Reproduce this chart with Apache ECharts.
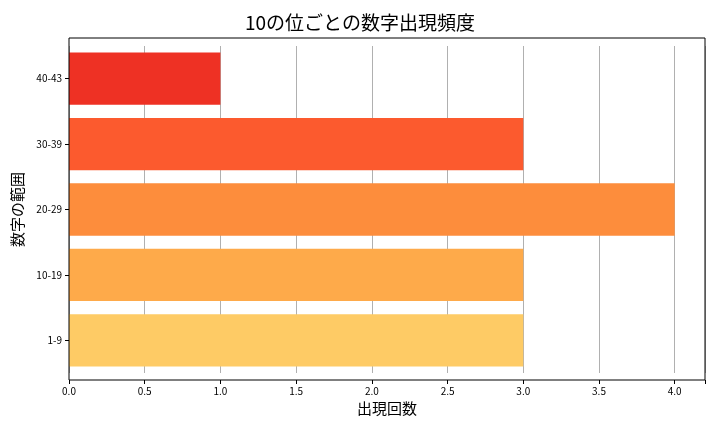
<!DOCTYPE html>
<html><head><meta charset="utf-8">
<script src="https://cdn.jsdelivr.net/npm/echarts@6/dist/echarts.min.js"></script>
<style>body{margin:0}#main{width:720px;height:432px}</style>
</head><body><div id="main"></div>
<script>
var categories = ['1-9', '10-19', '20-29', '30-39', '40-43'];
var counts = [3, 3, 4, 3, 1];
var colors = ['#FECB65', '#FEAA4A', '#FD8D3C', '#FC5A2E', '#EE3124'];
var xTicks = [0, 0.5, 1, 1.5, 2, 2.5, 3, 3.5, 4];

var font = '"Noto Sans CJK JP", sans-serif';
var myChart = echarts.init(document.getElementById('main'));
var option = {
	animation: false,
	title: {
		text: '10の位ごとの数字出現頻度', left: 'center', top: 8,
		textStyle: { fontFamily: font, fontSize: 19, fontWeight: 'normal', color: '#000' }
	},
	grid: { left: 69, right: 15, top: 46, bottom: 59 },
	graphic: [{
		type: 'rect', shape: { x: 69, y: 38, width: 636, height: 342 },
		style: { fill: 'none', stroke: '#000', lineWidth: 1 }, z: 10
	}],
	xAxis: {
		type: 'value', min: 0, max: 4.2, interval: 0.5, offset: 7,
		name: '出現回数', nameLocation: 'middle', nameGap: 20,
		nameTextStyle: { fontFamily: font, fontSize: 15, color: '#000' },
		axisLine: { show: false },
		axisTick: { show: true, length: 4, lineStyle: { color: '#000' } },
		axisLabel: {
			fontFamily: font, fontSize: 10, color: '#000', margin: 6,
			formatter: function (v) { return xTicks.indexOf(v) >= 0 ? v.toFixed(1) : ''; }
		},
		splitLine: { show: true, lineStyle: { color: '#b0b0b0' } }
	},
	yAxis: {
		type: 'category', data: categories,
		name: '数字の範囲', nameLocation: 'middle', nameGap: 44,
		nameTextStyle: { fontFamily: font, fontSize: 15, color: '#000' },
		axisLine: { show: false },
		axisTick: { show: true, alignWithLabel: true, length: 4, lineStyle: { color: '#000' } },
		axisLabel: { fontFamily: font, fontSize: 10, color: '#000', margin: 7 }
	},
	series: [{
		type: 'bar', barWidth: '80%',
		data: counts.map(function (v, i) { return { value: v, itemStyle: { color: colors[i] } }; })
	}]
};
myChart.setOption(option);
</script></body></html>
